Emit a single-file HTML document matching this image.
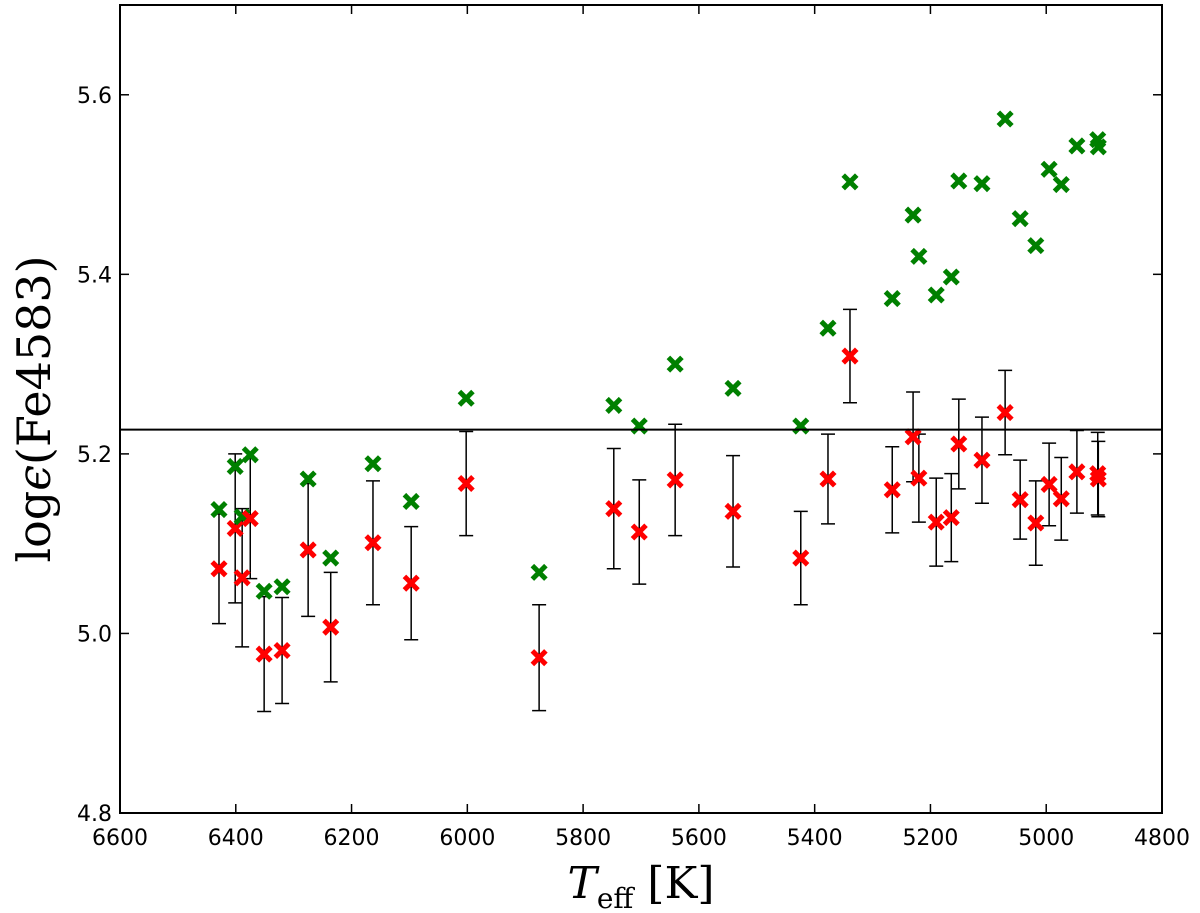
<!DOCTYPE html>
<html><head><meta charset="utf-8"><style>
html,body{margin:0;padding:0;background:#fff;}
svg{display:block;}
text{font-family:"DejaVu Sans","Liberation Sans",sans-serif;}
</style></head><body>
<svg id="chart" width="1200" height="913" xmlns="http://www.w3.org/2000/svg">
<g id="grid"></g>
<g id="marks"></g>
<rect x="120" y="5" width="1042" height="808" fill="none" stroke="#000" stroke-width="2"/>
<line id="refline" stroke="#000" stroke-width="2"/>
<text transform="translate(50,409) rotate(-90)" text-anchor="middle" font-size="46" style="font-family:'DejaVu Serif','Liberation Serif',serif">log<tspan font-style="italic">ϵ</tspan>(Fe4583)</text>
<text x="641" y="898" text-anchor="middle" font-size="44" style="font-family:'DejaVu Serif','Liberation Serif',serif"><tspan font-style="italic">T</tspan><tspan font-size="28" dy="10">eff</tspan><tspan dy="-10"> [K]</tspan></text>
</svg>
<script>
const temps=[6429,6401,6389,6375,6351,6320,6275,6236,6163,6097,6002,5876,5747,5703,5641,5541,5424,5377,5339,5266,5230,5220,5190,5164,5151,5111,5071,5045,5018,4995,4974,4947,4911,4910];
const greenVals=[5.138,5.186,5.130,5.199,5.047,5.052,5.172,5.084,5.189,5.147,5.262,5.068,5.254,5.231,5.300,5.273,5.231,5.340,5.503,5.373,5.466,5.420,5.377,5.397,5.504,5.501,5.573,5.462,5.432,5.517,5.500,5.543,5.550,5.542];
const redVals=[5.072,5.117,5.062,5.128,4.977,4.981,5.093,5.007,5.101,5.056,5.167,4.973,5.139,5.113,5.171,5.136,5.084,5.172,5.309,5.160,5.219,5.173,5.124,5.129,5.211,5.193,5.246,5.149,5.123,5.166,5.150,5.180,5.178,5.172];
const redErr=[0.061,0.083,0.077,0.067,0.064,0.059,0.074,0.061,0.069,0.063,0.058,0.059,0.067,0.058,0.062,0.062,0.052,0.050,0.052,0.048,0.050,0.049,0.049,0.049,0.050,0.048,0.047,0.044,0.047,0.046,0.046,0.046,0.046,0.042];
const refValue=5.227;
const xTicks=[6600,6400,6200,6000,5800,5600,5400,5200,5000,4800];
const yTicks=[4.8,5.0,5.2,5.4,5.6];

const L=120,R=1162,T=5,B=813;
const xs=v=>L+(6600-v)/1800*(R-L);
const ys=v=>B-(v-4.8)/0.9*(B-T);
const NS="http://www.w3.org/2000/svg";
const grid=document.getElementById('grid');
const marks=document.getElementById('marks');
function mk(tag,attrs,parent){const e=document.createElementNS(NS,tag);for(const k in attrs)e.setAttribute(k,attrs[k]);parent.appendChild(e);return e;}

xTicks.forEach(t=>{
  const x=xs(t);
  const a=mk('line',{x1:x,x2:x,y1:B,y2:B-9,stroke:'#000','stroke-width':1.5},grid);
  
  
  const b=mk('line',{x1:x,x2:x,y1:T,y2:T+9,stroke:'#000','stroke-width':1.5},grid);
  
  
  const lb=mk('text',{x:x,y:B+32,'text-anchor':'middle','font-size':22},grid);
  lb.textContent=t;
  
  
});
yTicks.forEach(t=>{
  const y=ys(t);
  const a=mk('line',{x1:L,x2:L+9,y1:y,y2:y,stroke:'#000','stroke-width':1.5},grid);
  
  
  const b=mk('line',{x1:R,x2:R-9,y1:y,y2:y,stroke:'#000','stroke-width':1.5},grid);
  
  
  const lb=mk('text',{x:L-8,y:y+8,'text-anchor':'end','font-size':22},grid);
  lb.textContent=t.toFixed(1);
  
  
});

const ry=ys(refValue);
const rl=document.getElementById('refline');
rl.setAttribute('x1',L);rl.setAttribute('x2',R);rl.setAttribute('y1',ry);rl.setAttribute('y2',ry);

function cross(x,y,color,name){
  const g=mk('g',{},marks);
  
  
  const s=5;
  mk('path',{d:`M${x-s},${y-s}L${x+s},${y+s}M${x-s},${y+s}L${x+s},${y-s}`,stroke:color,'stroke-width':5,'stroke-linecap':'square'},g);
}
temps.forEach((t,i)=>{
  const x=xs(t);
  const y1=ys(redVals[i]+redErr[i]),y2=ys(redVals[i]-redErr[i]);
  const eb=mk('path',{d:`M${x},${y1}L${x},${y2}M${x-7},${y1}L${x+7},${y1}M${x-7},${y2}L${x+7},${y2}`,stroke:'#000','stroke-width':1.5,fill:'none'},marks);
  
  
});
temps.forEach((t,i)=>{
  cross(xs(t),ys(greenVals[i]),'#008000','green-point');
  cross(xs(t),ys(redVals[i]),'#ff0000','red-point');
});
</script>
</body></html>
